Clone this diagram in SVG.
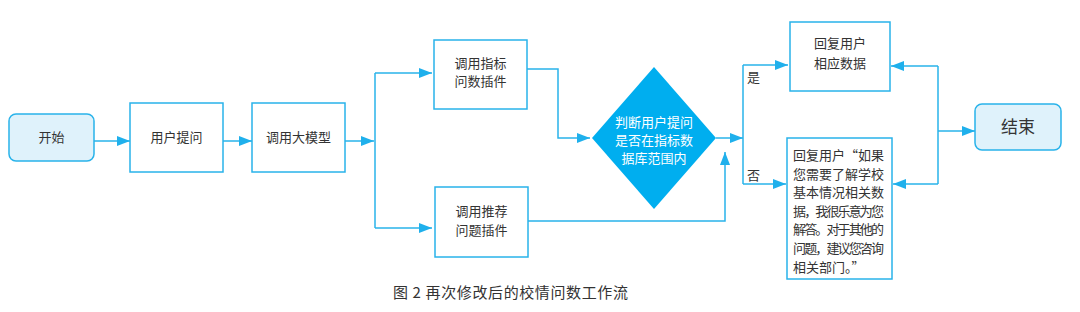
<svg xmlns="http://www.w3.org/2000/svg" width="1080" height="312" viewBox="0 0 1080 312">
<style>
.box{fill:#fff;stroke:#29b3ea;stroke-width:1.5}
.term{fill:#dff2fb;stroke:#29b3ea;stroke-width:1.5}
.t{font-family:"Noto Sans CJK SC",sans-serif;font-size:13px;fill:#333;text-anchor:middle}
.tl{font-family:"Noto Sans CJK SC",sans-serif;font-size:13px;fill:#333}
.w{font-family:"Noto Sans CJK SC",sans-serif;font-size:13px;fill:#fff;text-anchor:middle}
.c{fill:none;stroke:#29b3ea;stroke-width:1.5}
</style>
<defs>
<marker id="ah" markerUnits="userSpaceOnUse" markerWidth="13" markerHeight="10" refX="13" refY="5" orient="auto">
<path d="M0,0 L13,5 L0,10 z" fill="#1fb0ec"/>
</marker>
</defs>
<rect width="1080" height="312" fill="#fff"/>
<g id="connectors">
<path class="c" d="M94,141 H130" marker-end="url(#ah)"/>
<path class="c" d="M223,141 H252" marker-end="url(#ah)"/>
<path class="c" d="M345,141 H374" marker-end="url(#ah)"/>
<path class="c" d="M375,73 V228"/>
<path class="c" d="M375,73 H432" marker-end="url(#ah)"/>
<path class="c" d="M375,228 H432" marker-end="url(#ah)"/>
<path class="c" d="M527,69 H558 V138 H590" marker-end="url(#ah)"/>
<path class="c" d="M528,221 H725 V152" marker-end="url(#ah)"/>
<path class="c" d="M716,138 H743" marker-end="url(#ah)"/>
<path class="c" d="M743,65 V184"/>
<path class="c" d="M743,65 H788" marker-end="url(#ah)"/>
<path class="c" d="M743,184 H786" marker-end="url(#ah)"/>
<path class="c" d="M938,66 V184"/>
<path class="c" d="M938,66 H891" marker-end="url(#ah)"/>
<path class="c" d="M938,184 H893" marker-end="url(#ah)"/>
<path class="c" d="M938,131 H975" marker-end="url(#ah)"/>
<text class="tl" x="747" y="82">是</text>
<text class="tl" x="747" y="180">否</text>
</g>
<g id="start">
<rect class="term" x="9" y="114" width="85" height="47" rx="7"/>
<text class="t" x="51.5" y="142">开始</text>
</g>
<g id="ask">
<rect class="box" x="130" y="103" width="93" height="69"/>
<text class="t" x="176.5" y="142">用户提问</text>
</g>
<g id="llm">
<rect class="box" x="252" y="103" width="93" height="69"/>
<text class="t" x="298.5" y="142">调用大模型</text>
</g>
<g id="plugin1">
<rect class="box" x="434" y="40" width="93" height="69"/>
<text class="t" x="480.5" y="68">调用指标</text>
<text class="t" x="480.5" y="86">问数插件</text>
</g>
<g id="plugin2">
<rect class="box" x="435" y="187" width="93" height="70"/>
<text class="t" x="481.5" y="216">调用推荐</text>
<text class="t" x="481.5" y="235">问题插件</text>
</g>
<g id="decision">
<path d="M654,67 L716,138 L654,209 L592,138 z" fill="#00aeef"/>
<text class="w" x="654" y="127">判断用户提问</text>
<text class="w" x="654" y="145">是否在指标数</text>
<text class="w" x="654" y="163">据库范围内</text>
</g>
<g id="reply-yes">
<rect class="box" x="790" y="22" width="100" height="69"/>
<text class="t" x="840" y="48">回复用户</text>
<text class="t" x="840" y="68">相应数据</text>
</g>
<g id="reply-no">
<rect class="box" x="787" y="138" width="105" height="141"/>
<text class="tl" x="793" y="160" textLength="91" lengthAdjust="spacing">回复用户“如果</text>
<text class="tl" x="793" y="179" textLength="91" lengthAdjust="spacing">您需要了解学校</text>
<text class="tl" x="793" y="197" textLength="91" lengthAdjust="spacing">基本情况相关数</text>
<text class="tl" x="793" y="216" textLength="91" lengthAdjust="spacing">据，我很乐意为您</text>
<text class="tl" x="793" y="234" textLength="91" lengthAdjust="spacing">解答。对于其他的</text>
<text class="tl" x="793" y="253" textLength="91" lengthAdjust="spacing">问题，建议您咨询</text>
<text class="tl" x="793" y="272">相关部门。”</text>
</g>
<g id="end">
<rect class="term" x="975" y="104" width="86" height="46" rx="7"/>
<text class="t" x="1018" y="133" style="font-size:17px">结束</text>
</g>
<text x="393" y="298" textLength="235" lengthAdjust="spacing" style="font-family:'Noto Sans CJK SC',sans-serif;font-size:15px;fill:#333">图 2 再次修改后的校情问数工作流</text>
</svg>
